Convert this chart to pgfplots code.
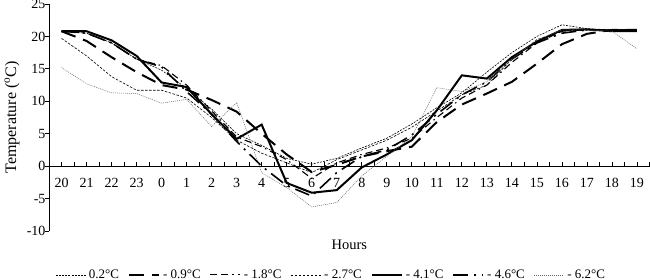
\documentclass[border=0pt]{standalone}
\usepackage{fontspec}
\setmainfont{Liberation Serif}
\usepackage{pgfplots}
\usepackage{pgfplotstable}
\pgfplotsset{compat=1.18}
\pgfplotstableread{
i s1 s2 s3 s4 s5 s6 s7
0 20.8 20.8 20.8 19.7 20.8 20.8 15.2
1 20.5 19.3 20.5 17.0 20.8 20.5 12.7
2 19.0 16.8 19.0 13.8 19.4 19.0 11.3
3 16.5 14.5 16.5 11.7 17.0 16.5 11.2
4 14.8 12.5 15.5 11.7 12.9 15.3 9.7
5 12.0 11.8 12.5 10.5 12.2 11.5 10.3
6 8.8 10.2 8.5 7.5 8.0 8.0 6.1
7 5.0 8.4 4.5 4.0 4.2 3.8 9.8
8 3.2 5.0 3.0 2.0 6.4 0.0 -1.0
9 1.2 1.8 1.0 0.5 -2.6 -3.0 -3.3
10 0.3 -0.9 -1.9 -1.0 -4.1 -4.6 -6.3
11 1.2 0.2 0.5 1.0 -3.7 -1.0 -5.6
12 2.8 1.5 1.8 2.5 -0.2 1.5 -1.5
13 4.3 2.3 2.8 4.0 1.8 2.5 1.5
14 6.5 3.0 4.3 6.0 4.0 4.8 4.5
15 9.0 6.8 7.5 8.5 8.6 8.0 12.1
16 11.3 9.5 10.5 11.0 14.0 11.0 11.5
17 14.5 11.2 12.5 12.5 13.5 13.0 13.0
18 17.5 13.0 16.0 16.5 16.8 16.5 16.5
19 20.0 15.8 19.0 19.5 19.2 19.0 19.5
20 21.8 18.8 20.8 20.8 21.0 20.5 21.0
21 21.2 20.4 21.0 21.0 21.1 21.0 21.0
22 21.0 21.0 21.0 21.0 20.8 21.0 20.8
23 21.0 21.0 21.0 21.0 20.8 21.0 18.1
}\data
\begin{document}
\begin{tikzpicture}
\begin{axis}[name=ax, scale only axis, width=600.5pt, height=227pt,
  xmin=-0.5, xmax=23.5, ymin=-10, ymax=25,
  axis x line*=middle, axis y line*=left,
  axis line style={line width=0.8pt, -},
  xtick={0,...,23},
  xticklabels={20,21,22,23,0,1,2,3,4,5,6,7,8,9,10,11,12,13,14,15,16,17,18,19},
  minor xtick={-0.5,0.5,...,23.5},
  ytick={-10,-5,...,25},
  tick align=inside,
  major tick length=4pt, minor tick length=4pt,
  tick style={black, line width=0.8pt},
  ytick style={xshift=-4pt},
  /pgf/number format/assume math mode=true,
  tick label style={font=\fontsize{14}{16}\selectfont},
  xticklabel style={yshift=-9pt},
  xlabel={Hours},
  xlabel style={at={(axis description cs:0.5,0)}, anchor=north, yshift=-5pt, font=\fontsize{14.5}{16}\selectfont},
  ylabel={Temperature (\textsuperscript{o}C)},
  ylabel style={at={(axis description cs:-0.0616,0.5)}, anchor=center, font=\fontsize{16}{18}\selectfont},
  legend columns=7,
  legend style={draw=none, fill=none, at={(axis description cs:0.47,-0.193)}, anchor=center,
    font=\fontsize{13}{15}\selectfont,
    /tikz/every odd column/.append style={column sep=1pt},
    /tikz/every even column/.append style={column sep=7pt}},
  legend image code/.code={\draw[#1] (0pt,0pt) -- (30pt,0pt);},
  clip=false,
]
\addplot[black, line width=0.6pt, dash pattern=on 2pt off 1.2pt] table[x=i,y=s1] {\data};
\addlegendentry{0.2°C}
\addplot[black, line width=2pt, dash pattern=on 15pt off 8pt] table[x=i,y=s2] {\data};
\addlegendentry{- 0.9°C}
\addplot[black, line width=1.1pt, dash pattern=on 7pt off 4pt on 7pt off 4pt on 1.5pt off 4pt] table[x=i,y=s3] {\data};
\addlegendentry{- 1.8°C}
\addplot[black, line width=0.6pt, dash pattern=on 2.5pt off 1.5pt] table[x=i,y=s4] {\data};
\addlegendentry{- 2.7°C}
\addplot[black, line width=2pt] table[x=i,y=s5] {\data};
\addlegendentry{- 4.1°C}
\addplot[black, line width=1.6pt, dash pattern=on 15pt off 6pt on 2pt off 6pt] table[x=i,y=s6] {\data};
\addlegendentry{- 4.6°C}
\addplot[black!60, line width=0.5pt, dash pattern=on 1pt off 1pt] table[x=i,y=s7] {\data};
\addlegendentry{- 6.2°C}
\end{axis}
\pgfresetboundingbox
\path ([xshift=-49pt,yshift=-49pt]ax.south west) rectangle ([xshift=0.5pt,yshift=4pt]ax.north east);
\end{tikzpicture}
\end{document}
